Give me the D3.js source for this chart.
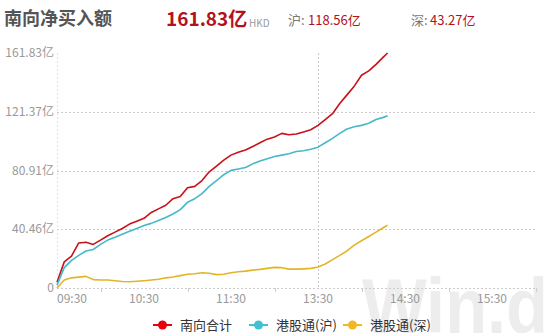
<!DOCTYPE html>
<html>
  <head>
    <meta charset="utf-8">
    <style>
      html, body {
        padding: 0;
        margin: 0;
        overflow: hidden;
        background: #ffffff;
      }
      svg {
        display: block;
        font-family: "Noto Sans CJK SC", "Noto Sans", sans-serif;
      }
      .grid line {
        stroke: #cccccc;
        stroke-dasharray: 2,2;
      }
      .tick-label {
        fill: #999999;
        font-size: 12px;
      }
      .series {
        fill: none;
        stroke-width: 1.6;
        stroke-linejoin: round;
      }
    </style>
  </head>
  <body>
    <div id="chart"></div>
    <script src="https://cdnjs.cloudflare.com/ajax/libs/d3/7.8.5/d3.min.js"></script>
    <script>
      // trading minutes, sampled every 5 min (morning 09:30-12:00, afternoon 13:00-)
      const times = [
        '09:30','09:35','09:40','09:45','09:50','09:55','10:00','10:05','10:10','10:15',
        '10:20','10:25','10:30','10:35','10:40','10:45','10:50','10:55','11:00','11:05',
        '11:10','11:15','11:20','11:25','11:30','11:35','11:40','11:45','11:50','11:55',
        '12:00','13:05','13:10','13:15','13:20','13:25','13:30','13:35','13:40','13:45',
        '13:50','13:55','14:00','14:05','14:10','14:15','14:18'
      ];

      // 亿 HKD
      const totalSouth = [
        4, 18, 22, 31, 31.5, 30, 33, 36, 38.5, 41,
        44, 46, 48, 52, 54.5, 57, 61.5, 63, 69, 70,
        74, 80, 84, 88, 91.5, 93.5, 95, 97.5, 100, 102.5,
        104, 106.5, 105.5, 106, 107.5, 109, 112, 116, 120, 127,
        133, 139, 146.5, 149.5, 154, 159, 161.83
      ];
      const shConnect = [
        2, 14, 19, 22.5, 25.5, 26.5, 30, 33, 35, 37,
        39, 41, 43, 44.5, 46.5, 48.5, 51, 54, 59, 61.5,
        65, 70, 74, 78, 81, 82, 83, 85.5, 87.5, 89,
        90.5, 91.5, 92.5, 94, 94.5, 95.5, 97, 100, 103, 106.5,
        109.5, 111, 112, 113.5, 116, 117.5, 118.56
      ];
      const szConnect = [
        0, 5.5, 7, 7.5, 8, 5.8, 5.5, 5.5, 5, 4.5,
        4.3, 4.6, 5, 5.5, 6, 7, 7.6, 8.5, 9.5, 9.8,
        10.5, 10.2, 9.2, 9.5, 10.5, 11.2, 11.6, 12.3, 12.8, 13.5,
        14.2, 14, 13, 13, 13.2, 13.5, 14.5, 16.5, 19.5, 22.5,
        25.5, 29.5, 32.5, 35.5, 38.5, 41.5, 43.27
      ];

      const yTicks = [0, 40.46, 80.91, 121.37, 161.83];
      const xLabels = ['09:30', '10:30', '11:30', '13:30', '14:30', '15:30'];
      const xMinorTicks = ['10:00', '11:00', '12:00', '14:00', '15:00', '16:00'];

      const seriesNames = ['南向合计', '港股通(沪)', '港股通(深)'];
      const lineColors = ['#c8101a', '#45b9c7', '#e3b526'];
      const dotColors = ['#e8000b', '#40c0d0', '#f0b823'];

      (() => {
        // minute offset from 09:30, lunch break squeezed out
        function tradeMinute(t) {
          let [h, m] = t.split(':').map(Number)
          let mins = h * 60 + m
          if (mins <= 12 * 60) return mins - (9 * 60 + 30)
          return 150 + mins - 13 * 60
        }

        let width = 550
        let height = 334
        let plotLeft = 57, plotRight = 535.5, plotTop = 53, plotBottom = 288

        let svg = d3.select('#chart')
          .append('svg')
          .attr('width', width)
          .attr('height', height)

        let x = d3.scaleLinear().domain([0, 330]).range([plotLeft, plotRight])
        let y = d3.scaleLinear().domain([0, 161.83]).range([plotBottom, plotTop])

        // watermark
        svg.append('text')
          .attr('x', 362)
          .attr('y', 333)
          .attr('textLength', 186)
          .attr('lengthAdjust', 'spacingAndGlyphs')
          .style('font-family', '"Liberation Sans", Arial, sans-serif')
          .style('font-weight', 'bold')
          .style('font-size', '78px')
          .style('fill', '#ededed')
          .text('Win.d')

        // header
        let head = svg.append('g')
        head.append('text')
          .attr('x', 4).attr('y', 25)
          .style('font-size', '18px').style('font-weight', 'bold').style('fill', '#555')
          .text('南向净买入额')
        head.append('text')
          .attr('x', 166).attr('y', 26)
          .style('font-size', '19px').style('font-weight', 'bold').style('fill', '#b3121c')
          .text(d3.format('.2f')(totalSouth[totalSouth.length - 1]) + '亿')
        head.append('text')
          .attr('x', 249).attr('y', 27)
          .style('font-size', '10px').style('fill', '#999')
          .text('HKD')
        head.append('text')
          .attr('x', 288).attr('y', 25)
          .style('font-size', '13px').style('fill', '#777')
          .text('沪:')
        head.append('text')
          .attr('x', 308).attr('y', 25)
          .style('font-size', '13px').style('fill', '#b3121c')
          .text(d3.format('.2f')(shConnect[shConnect.length - 1]) + '亿')
        head.append('text')
          .attr('x', 411).attr('y', 25)
          .style('font-size', '13px').style('fill', '#777')
          .text('深:')
        head.append('text')
          .attr('x', 430).attr('y', 25)
          .style('font-size', '13px').style('fill', '#b3121c')
          .text(d3.format('.2f')(szConnect[szConnect.length - 1]) + '亿')

        // grid
        let grid = svg.append('g').attr('class', 'grid')
        grid.selectAll('.h')
          .data(yTicks.slice(0, 4))
          .enter().append('line')
          .attr('x1', plotLeft).attr('x2', plotRight)
          .attr('y1', d => Math.round(y(d)) + 0.5)
          .attr('y2', d => Math.round(y(d)) + 0.5)
        grid.append('line')
          .attr('x1', plotLeft + 0.5).attr('x2', plotLeft + 0.5)
          .attr('y1', plotTop).attr('y2', plotBottom)
          .style('stroke', '#e2e2e2')
        let xCursor = Math.round(x(tradeMinute('13:30'))) + 0.5
        grid.append('line')
          .attr('x1', xCursor).attr('x2', xCursor)
          .attr('y1', plotTop).attr('y2', plotBottom)

        // x tick marks
        svg.append('g').selectAll('line')
          .data(xMinorTicks)
          .enter().append('line')
          .attr('x1', d => Math.round(x(tradeMinute(d))) + 0.5)
          .attr('x2', d => Math.round(x(tradeMinute(d))) + 0.5)
          .attr('y1', plotBottom).attr('y2', plotBottom + 4)
          .style('stroke', '#cccccc')

        // y labels
        svg.append('g').selectAll('text')
          .data(yTicks)
          .enter().append('text')
          .attr('class', 'tick-label')
          .attr('x', 54)
          .attr('y', d => y(d) + 4)
          .attr('text-anchor', 'end')
          .text(d => d === 0 ? '0' : d3.format('.2f')(d) + '亿')

        // x labels
        svg.append('g').selectAll('text')
          .data(xLabels)
          .enter().append('text')
          .attr('class', 'tick-label')
          .attr('x', (d, i) => i === 0 ? plotLeft : x(tradeMinute(d)))
          .attr('y', 303)
          .attr('text-anchor', (d, i) => i === 0 ? 'start' : 'middle')
          .text(d => d)

        // lines
        let line = d3.line()
          .x((d, i) => x(tradeMinute(times[i])))
          .y(d => y(d))

        let allSeries = [totalSouth, shConnect, szConnect]
        svg.append('g').selectAll('path')
          .data(allSeries)
          .enter().append('path')
          .attr('class', 'series')
          .attr('stroke', (d, i) => lineColors[i])
          .attr('d', line)

        // legend
        let legendX = [153, 249, 343]
        let legend = svg.append('g').selectAll('g')
          .data(seriesNames)
          .enter().append('g')
          .attr('transform', (d, i) => 'translate(' + legendX[i] + ',325)')
        legend.append('line')
          .attr('x1', 0).attr('x2', 19)
          .attr('y1', 0).attr('y2', 0)
          .attr('stroke', (d, i) => dotColors[i])
          .attr('stroke-width', 2)
        legend.append('circle')
          .attr('cx', 9.5).attr('cy', 0).attr('r', 4.5)
          .attr('fill', (d, i) => dotColors[i])
        legend.append('text')
          .attr('x', 27).attr('y', 5)
          .style('font-size', '13px').style('fill', '#333')
          .text(d => d)
      })();
    </script>
  </body>
</html>
